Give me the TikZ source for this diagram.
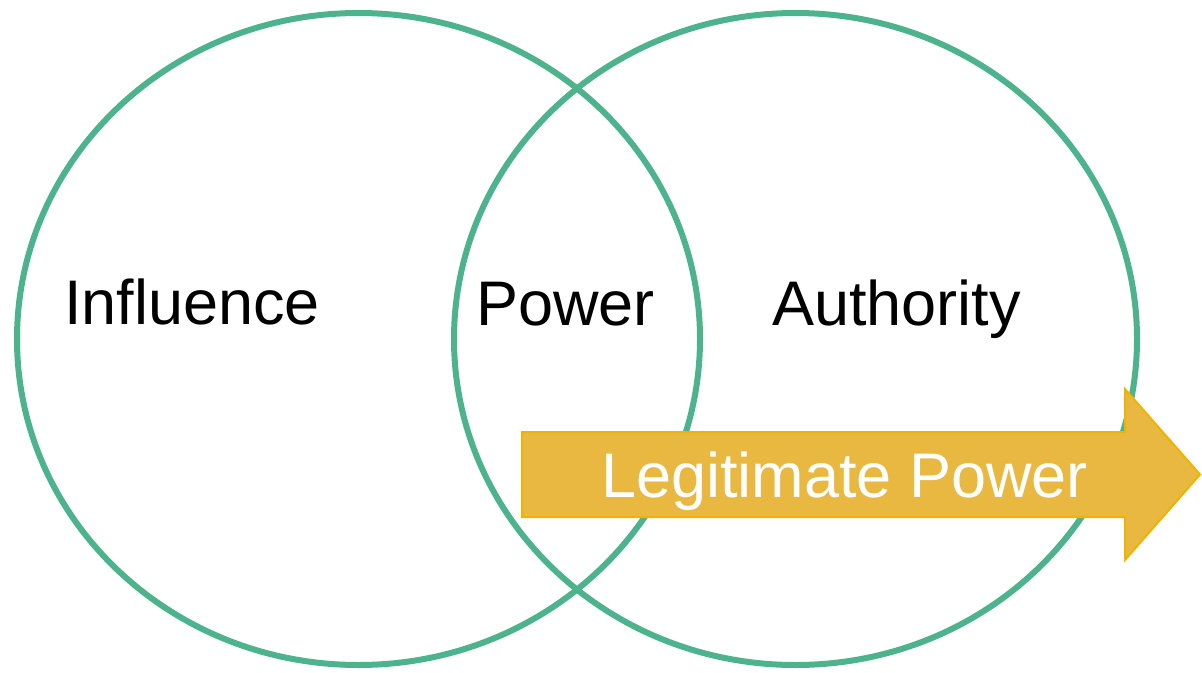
\documentclass[tikz,border=0pt]{standalone}
\usepackage{fontspec}
\setmainfont{Liberation Sans}
\usetikzlibrary{shapes.geometric}
\definecolor{venngreen}{HTML}{4DB38D}
\definecolor{arrowfill}{HTML}{E9B841}
\definecolor{arrowline}{HTML}{F2B300}
\begin{document}
\begin{tikzpicture}[x=1pt,y=-1pt,
  venn/.style={ellipse,draw=venngreen,line width=6pt,minimum width=683pt,minimum height=652pt,inner sep=0pt},
  lbl/.style={anchor=base west,inner sep=0pt,font=\fontsize{63}{70}\selectfont},
  arrowshape/.style={fill=arrowfill,draw=arrowline,line width=2pt,line join=miter}]
\useasboundingbox (0,0) rectangle (1202,672);
\node[venn] (left) at (358.5,339) {};
\node[venn] (right) at (795.5,339) {};
\coordinate (a1) at (522,432);
\coordinate (a2) at (1125,432);
\coordinate (a3) at (1125,389);
\coordinate (tip) at (1200,474.5);
\coordinate (a5) at (1125,560);
\coordinate (a6) at (1125,517);
\coordinate (a7) at (522,517);
\draw[arrowshape] (a1) -- (a2) -- (a3) -- (tip) -- (a5) -- (a6) -- (a7) -- cycle;
\node[lbl] (influence) at (64,324) {Influence};
\node[lbl] (power) at (476,325) {Power};
\node[lbl] (authority) at (772,325) {Authority};
\node[lbl,text=white] (legit) at (601,497) {Legitimate Power};
\end{tikzpicture}
\end{document}
